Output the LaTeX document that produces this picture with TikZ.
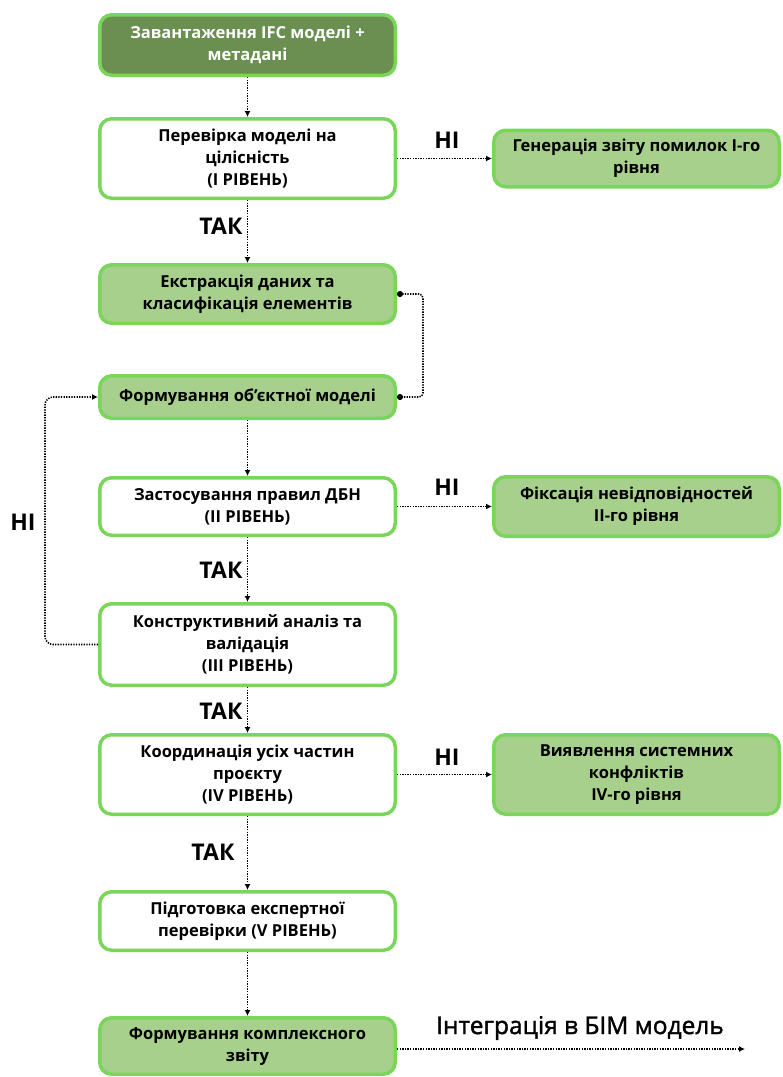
\documentclass[tikz,border=0pt]{standalone}
\usepackage{fontspec}
\setmainfont{Open Sans}
\newfontfamily\semifont[FakeBold=1.5]{Open Sans}
\usetikzlibrary{arrows.meta}
\definecolor{bordergreen}{HTML}{7AD65A}
\definecolor{darkfill}{HTML}{6A8F50}
\definecolor{lightfill}{HTML}{A8D08D}

\begin{document}
\begin{tikzpicture}[x=1pt, y=-1pt]
\tikzstyle{boxw}=[rectangle, rounded corners=12pt, draw=bordergreen, line width=3.5pt, fill=white, minimum width=295.5pt, align=center, font=\bfseries\fontsize{16.5}{22}\selectfont, inner sep=2pt]
\tikzstyle{boxg}=[boxw, fill=lightfill]
\tikzstyle{boxd}=[boxw, fill=darkfill, text=white]
\tikzstyle{boxr}=[boxg, minimum width=285.5pt]
\tikzstyle{dotline}=[line width=1.6pt, dash pattern=on 1.3pt off 1.3pt]
\tikzstyle{drawstyle}=[dotline, -{Latex[length=6pt,width=6pt]}]
\tikzstyle{lbl}=[font=\bfseries\fontsize{23}{26}\selectfont]

\useasboundingbox (0,0) rectangle (783,1077);

\node[boxd, minimum height=60.5pt] (B1) at (247.5,45) {Завантаження IFC моделі +\\метадані};
\node[boxw, minimum height=79.5pt] (B2) at (247.5,158.5) {Перевірка моделі на\\цілісність\\(I РІВЕНЬ)};
\node[boxr, minimum height=56.5pt] (R1) at (636.5,158.5) {Генерація звіту помилок I-го\\рівня};
\node[boxg, minimum height=58.5pt] (B3) at (247.5,294) {Екстракція даних та\\класифікація елементів};
\node[boxg, minimum height=42.5pt] (B4) at (247.5,397) {Формування об’єктної моделі};
\node[boxw, minimum height=57.5pt] (B5) at (247.5,506.5) {Застосування правил ДБН\\(II РІВЕНЬ)};
\node[boxr, minimum height=59.5pt] (R2) at (636.5,506.5) {Фіксація невідповідностей\\II-го рівня};
\node[boxw, minimum height=81.5pt] (B6) at (247.5,644.5) {Конструктивний аналіз та\\валідація\\(III РІВЕНЬ)};
\node[boxw, minimum height=79.5pt] (B7) at (247.5,774.5) {Координація усіх частин\\проєкту\\(IV РІВЕНЬ)};
\node[boxr, minimum height=79.5pt] (R3) at (636.5,774.5) {Виявлення системних\\конфліктів\\IV-го рівня};
\node[boxw, minimum height=58.5pt] (B8) at (247.5,921) {Підготовка експертної\\перевірки (V РІВЕНЬ)};
\node[boxg, minimum height=56.5pt] (B9) at (247.5,1046) {Формування комплексного\\звіту};
\coordinate (E1) at (745,1049);

\node[lbl] (L1) at (447,140) {НІ};
\node[lbl] (L2) at (221,226) {ТАК};
\node[lbl] (L3) at (447,487) {НІ};
\node[lbl] (L4) at (23,522) {НІ};
\node[lbl] (L5) at (221,570) {ТАК};
\node[lbl] (L6) at (221,711) {ТАК};
\node[lbl] (L7) at (447,757) {НІ};
\node[lbl] (L8) at (213,852) {ТАК};
\node[font=\semifont\fontsize{24.5}{28}\selectfont] (L9) at (580,1028) {Інтеграція в БІМ модель};

\draw[drawstyle] (B1) -- (B2);
\draw[drawstyle] (B2) -- (R1);
\draw[drawstyle] (B2) -- (B3);
\draw[dotline, rounded corners=4pt, {Circle[length=6pt]}-{Circle[length=6pt]}] (B3.east) -- ++(26,0) |- (B4.east);
\draw[drawstyle] (B4) -- (B5);
\draw[drawstyle] (B5) -- (R2);
\draw[drawstyle] (B5) -- (B6);
\draw[drawstyle, rounded corners=8pt] (B6.west) -- ++(-53,0) |- (B4.west);
\draw[drawstyle] (B6) -- (B7);
\draw[drawstyle] (B7) -- (R3);
\draw[drawstyle] (B7) -- (B8);
\draw[drawstyle] (B8) -- (B9);
\draw[drawstyle] (B9.east |- E1) -- (E1);
\end{tikzpicture}
\end{document}
